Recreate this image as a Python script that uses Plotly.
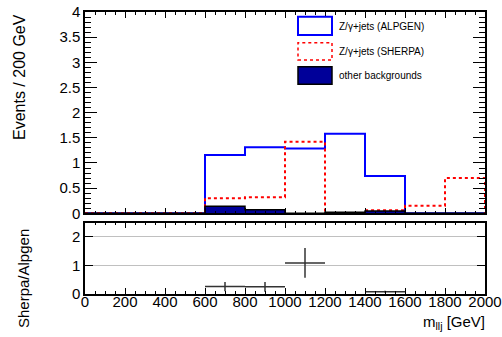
import plotly.graph_objects as go

# Binning: 200 GeV bins from 0 to 2000 GeV
bin_edges = list(range(0, 2001, 200))

# Events per bin
alpgen = [0, 0, 0, 1.16, 1.31, 1.29, 1.58, 0.74, 0, 0]
sherpa = [0, 0, 0, 0.30, 0.32, 1.42, 0, 0.06, 0.15, 0.70]
other_bkg = [0, 0, 0, 0.14, 0.07, 0, 0.02, 0.045, 0, 0]

# Sherpa / Alpgen ratio points
ratio_x = [700, 900, 1100, 1500]
ratio_val = [0.26, 0.25, 1.09, 0.08]
ratio_err = [0.16, 0.17, 0.52, 0.03]
ratio_halfwidth = [100, 100, 100, 100]

x_ticks = list(range(0, 2001, 200))

W, H = 502, 337
FONT = "Liberation Sans, Arial, sans-serif"


def step_path(edges, vals):
    xs, ys = [edges[0]], [0]
    for i, v in enumerate(vals):
        xs += [edges[i], edges[i + 1]]
        ys += [v, v]
    xs.append(edges[-1])
    ys.append(0)
    return xs, ys


def px(x):
    return x / W


def py(y):
    return 1 - y / H


fig = go.Figure()

xa, ya = step_path(bin_edges, alpgen)
fig.add_trace(go.Scatter(x=xa, y=ya, mode="lines",
                         line=dict(color="#0000ff", width=2),
                         xaxis="x", yaxis="y", showlegend=False))

xs, ys = step_path(bin_edges, sherpa)
fig.add_trace(go.Scatter(x=xs, y=ys, mode="lines",
                         line=dict(color="#ff0000", width=2, dash="3px,3px"),
                         xaxis="x", yaxis="y", showlegend=False))

xo, yo = step_path(bin_edges, other_bkg)
fig.add_trace(go.Scatter(x=xo, y=yo, mode="lines", fill="toself",
                         fillcolor="#000099",
                         line=dict(color="black", width=1.5),
                         xaxis="x", yaxis="y", showlegend=False))

fig.add_trace(go.Scatter(
    x=ratio_x, y=ratio_val, mode="markers",
    marker=dict(size=1, color="#333333"),
    error_x=dict(type="data", array=ratio_halfwidth, color="#333333",
                 thickness=1.5, width=0),
    error_y=dict(type="data", array=ratio_err, color="#333333",
                 thickness=1.5, width=0),
    xaxis="x2", yaxis="y2", showlegend=False))

tickfont = dict(family=FONT, size=15, color="black")
x_dom = [px(85), px(485)]

common_x = dict(
    range=[0, 2000], domain=x_dom, showline=True, linecolor="black",
    linewidth=1.5, mirror="ticks", ticks="inside", ticklen=6,
    tickcolor="black", tickvals=x_ticks, showgrid=False, zeroline=False,
    minor=dict(dtick=50, ticks="inside", ticklen=3, tickcolor="black",
               showgrid=False),
    tickfont=tickfont, tickangle=0, automargin=False,
)

fig.update_layout(
    width=W, height=H,
    margin=dict(l=0, r=0, t=0, b=0, pad=0, autoexpand=False),
    paper_bgcolor="white", plot_bgcolor="white",
    font=dict(family=FONT, color="black"),
    showlegend=False,
    xaxis=dict(**common_x, anchor="y", showticklabels=False),
    yaxis=dict(
        range=[0, 4], domain=[py(213.3), py(12)], anchor="x",
        showline=True, linecolor="black", linewidth=1.5, mirror="ticks",
        ticks="inside", ticklen=12, tickcolor="black", dtick=0.5,
        showgrid=False, zeroline=False, tickfont=tickfont, automargin=False,
        minor=dict(dtick=0.1, ticks="inside", ticklen=6, tickcolor="black",
                   showgrid=False),
    ),
    xaxis2=dict(**common_x, anchor="y2", matches="x", ticklabelstandoff=-7),
    yaxis2=dict(
        range=[0, 2.5], domain=[py(294), py(222.7)], anchor="x2",
        showline=True, linecolor="black", linewidth=1.5, mirror="ticks",
        ticks="inside", ticklen=8, tickcolor="black", tickvals=[0, 1, 2],
        showgrid=True, gridcolor="#c0c0c0", gridwidth=1,
        zeroline=False, tickfont=tickfont, automargin=False,
    ),
)

# Legend boxes
shapes = [
    dict(type="rect", xref="paper", yref="paper",
         x0=px(298), x1=px(332), y0=py(35), y1=py(16.7),
         line=dict(color="#0000ff", width=2), fillcolor="white"),
    dict(type="rect", xref="paper", yref="paper",
         x0=px(298), x1=px(332), y0=py(60), y1=py(42.7),
         line=dict(color="#ff0000", width=1.5, dash="3px,3px"),
         fillcolor="white"),
    dict(type="rect", xref="paper", yref="paper",
         x0=px(298), x1=px(332), y0=py(84.3), y1=py(66.7),
         line=dict(color="black", width=1.5), fillcolor="#000099"),
]
fig.update_layout(shapes=shapes)

legend_labels = ["Z/\u03b3+jets (ALPGEN)", "Z/\u03b3+jets (SHERPA)",
                 "other backgrounds"]
legend_y = [26, 51, 75]
annotations = []
for lab, yy in zip(legend_labels, legend_y):
    annotations.append(dict(
        text=lab, xref="paper", yref="paper", x=px(337), y=py(yy),
        xanchor="left", yanchor="middle", showarrow=False,
        font=dict(family=FONT, size=10, color="black")))

annotations += [
    dict(text="Events / 200 GeV", xref="paper", yref="paper",
         x=px(19), y=py(77), textangle=-90, xanchor="center",
         yanchor="middle", showarrow=False,
         font=dict(family=FONT, size=16, color="black")),
    dict(text="Sherpa/Alpgen", xref="paper", yref="paper",
         x=px(23), y=py(279), textangle=-90, xanchor="center",
         yanchor="middle", showarrow=False,
         font=dict(family=FONT, size=15, color="black")),
    dict(text="m<sub>llj</sub> [GeV]", xref="paper", yref="paper",
         x=px(487), y=py(322), xanchor="right", yanchor="middle",
         showarrow=False, font=dict(family=FONT, size=15, color="black")),
]
fig.update_layout(annotations=annotations)

fig.write_html("out.html")
